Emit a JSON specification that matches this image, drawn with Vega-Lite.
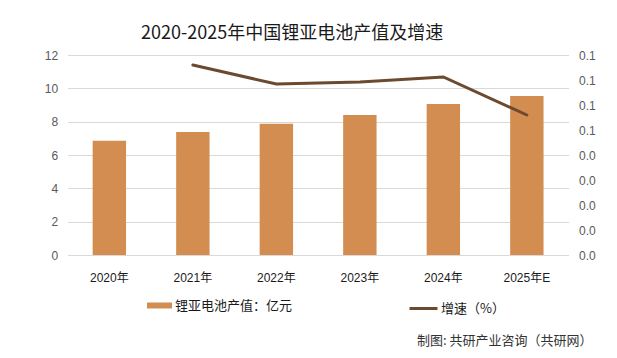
{
  "$schema": "https://vega.github.io/schema/vega-lite/v6.json",
  "width": 501,
  "height": 200,
  "autosize": {"type": "none"},
  "padding": {"left": 67.6, "top": 55, "right": 48.4, "bottom": 103},
  "background": "white",
  "config": {
    "view": {"stroke": null},
    "font": "Liberation Sans, Noto Sans CJK SC"
  },
  "title": {
    "text": "2020-2025年中国锂亚电池产值及增速",
    "font": "Noto Sans CJK SC",
    "fontSize": 18,
    "fontWeight": "normal",
    "color": "#1a1a1a",
    "anchor": "middle",
    "frame": "group",
    "dx": -26,
    "offset": 6
  },
  "data": {
    "values": [
      {"year": "2020年", "value": 6.86, "growth": null},
      {"year": "2021年", "value": 7.38, "growth": 0.076},
      {"year": "2022年", "value": 7.88, "growth": 0.0684},
      {"year": "2023年", "value": 8.40, "growth": 0.0692},
      {"year": "2024年", "value": 9.06, "growth": 0.0712},
      {"year": "2025年E", "value": 9.54, "growth": 0.056}
    ]
  },
  "encoding": {
    "x": {
      "field": "year",
      "type": "nominal",
      "sort": null,
      "scale": {"paddingInner": 0.6, "paddingOuter": 0.3},
      "axis": {
        "title": "制图: 共研产业咨询（共研网）",
        "titleFont": "Noto Sans CJK SC",
        "titleFontSize": 13,
        "titleFontWeight": "normal",
        "titleColor": "#333333",
        "titleAlign": "right",
        "titleAnchor": null,
        "titleX": 524.4,
        "titleY": 85,
        "titleBaseline": "middle",
        "labelAngle": 0,
        "labelFontSize": 12,
        "labelColor": "#1a1a1a",
        "labelPadding": 17,
        "domain": false,
        "ticks": false,
        "grid": false
      }
    }
  },
  "layer": [
    {
      "mark": {"type": "bar", "color": "#D38D50"},
      "encoding": {
        "y": {
          "field": "value",
          "type": "quantitative",
          "scale": {"domain": [0, 12], "nice": false},
          "axis": {
            "title": null,
            "values": [0, 2, 4, 6, 8, 10, 12],
            "labelColor": "#595959",
            "labelFontSize": 12,
            "labelPadding": 10,
            "domain": false,
            "ticks": false,
            "gridColor": "#D9D9D9",
            "gridWidth": 1
          }
        },
        "fill": {
          "datum": "锂亚电池产值：亿元",
          "scale": {"range": ["#D38D50"]},
          "legend": {
            "orient": "none",
            "legendX": 79.4,
            "legendY": 238,
            "title": null,
            "padding": 0,
            "symbolType": "M-1,-0.24H1V0.24H-1Z",
            "symbolSize": 625,
            "symbolStrokeWidth": 0,
            "labelFont": "Noto Sans CJK SC",
            "labelFontSize": 13,
            "labelColor": "#1a1a1a",
            "labelOffset": 3
          }
        }
      }
    },
    {
      "transform": [{"filter": "datum.growth != null"}],
      "mark": {"type": "line", "strokeWidth": 3, "color": "#6B4A2F", "strokeCap": "round"},
      "encoding": {
        "y": {
          "field": "growth",
          "type": "quantitative",
          "scale": {"domain": [0, 0.08], "nice": false},
          "axis": {
            "orient": "right",
            "title": null,
            "values": [0, 0.01, 0.02, 0.03, 0.04, 0.05, 0.06, 0.07, 0.08],
            "format": ".1f",
            "grid": false,
            "labelColor": "#595959",
            "labelFontSize": 12,
            "labelPadding": 10,
            "domain": false,
            "ticks": false
          }
        },
        "stroke": {
          "datum": "增速（%）",
          "scale": {"range": ["#6B4A2F"]},
          "legend": {
            "orient": "none",
            "legendX": 340.4,
            "legendY": 238,
            "title": null,
            "padding": 0,
            "symbolType": "stroke",
            "symbolSize": 784,
            "symbolStrokeWidth": 3,
            "labelFont": "Noto Sans CJK SC",
            "labelFontSize": 13,
            "labelColor": "#1a1a1a",
            "labelOffset": 2
          }
        }
      }
    }
  ],
  "resolve": {"scale": {"y": "independent"}}
}
